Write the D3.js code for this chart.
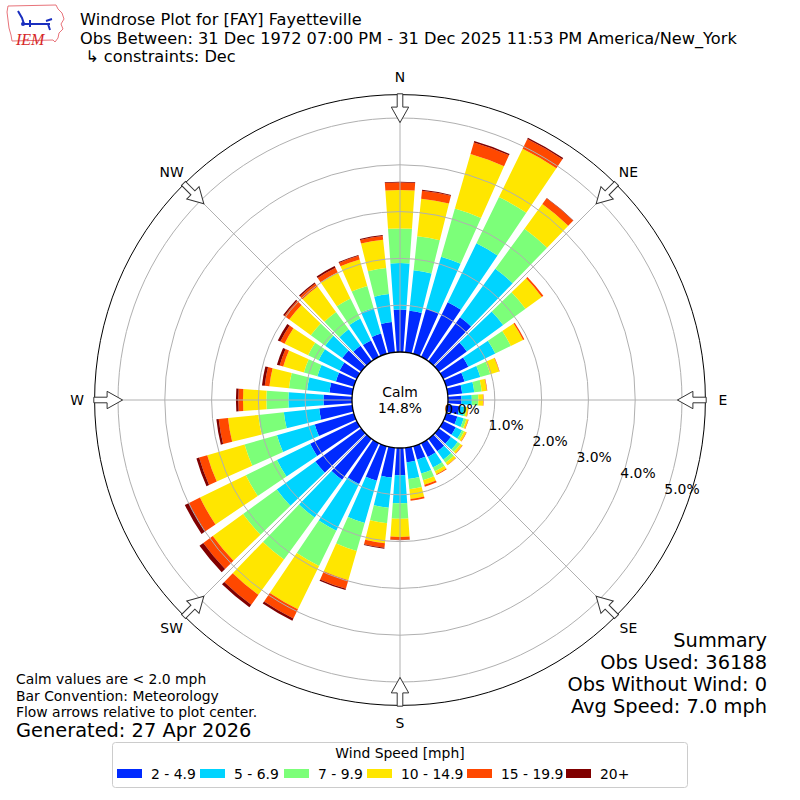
<!DOCTYPE html>
<html>
<head>
<meta charset="utf-8">
<script src="https://cdn.jsdelivr.net/npm/d3@7"></script>
<style>
  body { margin: 0; background: #fff; }
  text { font-family: "DejaVu Sans", sans-serif; fill: #000; }
</style>
</head>
<body>
<div id="rose"></div>
<script>
// directions the bars are centred on (degrees, from north, clockwise)
var directions = [0, 10, 20, 30, 40, 50, 60, 70, 80, 90, 100, 110, 120, 130, 140, 150, 160, 170,
                  180, 190, 200, 210, 220, 230, 240, 250, 260, 270, 280, 290, 300, 310, 320, 330, 340, 350];

// frequency [%] per direction for each speed class
var speed2to5   = [0.91, 0.89, 1.00, 1.30, 1.16, 0.74, 0.60, 0.41, 0.31, 0.29, 0.25, 0.25, 0.30, 0.32, 0.33, 0.33, 0.30, 0.31,
                   0.58, 0.64, 0.77, 0.97, 1.08, 1.21, 1.11, 0.87, 0.71, 0.61, 0.49, 0.40, 0.41, 0.50, 0.41, 0.39, 0.45, 0.65];
var speed5to7   = [0.99, 0.87, 1.16, 1.40, 1.28, 0.96, 0.64, 0.35, 0.26, 0.22, 0.11, 0.14, 0.15, 0.18, 0.22, 0.25, 0.31, 0.36,
                   0.60, 0.65, 0.94, 1.11, 1.00, 1.02, 0.79, 0.84, 0.76, 0.75, 0.48, 0.41, 0.50, 0.45, 0.43, 0.52, 0.57, 0.60];
var speed7to10  = [0.74, 0.73, 1.07, 1.10, 1.06, 0.59, 0.37, 0.22, 0.16, 0.14, 0.04, 0.06, 0.05, 0.07, 0.08, 0.09, 0.15, 0.22,
                   0.33, 0.33, 0.62, 0.84, 1.11, 0.89, 0.74, 0.72, 0.55, 0.47, 0.39, 0.30, 0.25, 0.38, 0.46, 0.48, 0.49, 0.56];
var speed10to15 = [0.82, 0.81, 1.21, 1.15, 0.65, 0.43, 0.29, 0.20, 0.11, 0.10, 0.04, 0.04, 0.05, 0.05, 0.06, 0.07, 0.10, 0.21,
                   0.39, 0.43, 0.65, 1.03, 0.93, 0.80, 1.09, 0.83, 0.65, 0.50, 0.42, 0.46, 0.56, 0.57, 0.67, 0.62, 0.59, 0.61];
var speed15to20 = [0.16, 0.17, 0.26, 0.23, 0.15, 0.04, 0.03, 0.01, 0.01, 0.01, 0.01, 0.01, 0.01, 0.01, 0.01, 0.02, 0.04, 0.04,
                   0.06, 0.10, 0.19, 0.22, 0.26, 0.25, 0.26, 0.18, 0.20, 0.10, 0.10, 0.08, 0.10, 0.13, 0.08, 0.11, 0.08, 0.08];
var speed20plus = [0.02, 0.02, 0.03, 0.03, 0.01, 0.00, 0.00, 0.00, 0.00, 0.00, 0.00, 0.00, 0.00, 0.00, 0.00, 0.00, 0.00, 0.00,
                   0.01, 0.02, 0.03, 0.05, 0.07, 0.10, 0.10, 0.06, 0.05, 0.05, 0.06, 0.06, 0.06, 0.03, 0.03, 0.04, 0.02, 0.02];

var speedLabels = ["2 - 4.9", "5 - 6.9", "7 - 9.9", "10 - 14.9", "15 - 19.9", "20+"];
var speedColors = ["#002aff", "#00d4ff", "#7cff79", "#ffe600", "#ff4800", "#800000"];

var ringTicks = [0, 1, 2, 3, 4, 5];
var compassLabels = ["N", "NE", "E", "SE", "S", "SW", "W", "NW"];
var compassAngles = [0, 45, 90, 135, 180, 225, 270, 315];

var calmPct = "14.8%";
var titleLines = ["Windrose Plot for [FAY] Fayetteville",
                  "Obs Between: 31 Dec 1972 07:00 PM - 31 Dec 2025 11:53 PM America/New_York",
                  " \u21b3 constraints: Dec"];
var noteLines = ["Calm values are < 2.0 mph", "Bar Convention: Meteorology", "Flow arrows relative to plot center."];
var summaryLines = ["Summary", "Obs Used: 36188", "Obs Without Wind: 0", "Avg Speed: 7.0 mph"];

var width = 800, height = 800, cx = 400, cy = 400;
var small = "13.9px";

var svg = d3.select("#rose")
  .append("svg")
    .attr("width", width)
    .attr("height", height);

svg.append("rect").attr("width", width).attr("height", height).attr("fill", "#fff");

var rScale = d3.scaleLinear().domain([0, 5.5]).range([48, 305.4]);
var rad = function (d) { return d * Math.PI / 180; };

var keys = ["s1", "s2", "s3", "s4", "s5", "s6"];
var series = [speed2to5, speed5to7, speed7to10, speed10to15, speed15to20, speed20plus];
var rows = directions.map(function (d, i) {
  var row = { dir: d };
  keys.forEach(function (k, j) { row[k] = series[j][i]; });
  return row;
});
var stacked = d3.stack().keys(keys)(rows);

var plot = svg.append("g").attr("transform", "translate(" + cx + "," + cy + ")");

var arc = d3.arc()
  .innerRadius(function (d) { return rScale(d[0]); })
  .outerRadius(function (d) { return rScale(d[1]); })
  .startAngle(function (d) { return rad(d.data.dir - 4); })
  .endAngle(function (d) { return rad(d.data.dir + 4); });

plot.selectAll("g.layer")
  .data(stacked)
  .enter()
  .append("g")
    .attr("class", "layer")
    .attr("fill", function (d, i) { return speedColors[i]; })
  .selectAll("path")
  .data(function (d) { return d; })
  .enter()
  .append("path")
    .attr("d", arc);

// grid on top of bars
plot.selectAll("circle.grid")
  .data(ringTicks.filter(function (t) { return t > 0; }))
  .enter()
  .append("circle")
    .attr("r", function (t) { return rScale(t); })
    .attr("fill", "none")
    .attr("stroke", "#b0b0b0")
    .attr("stroke-width", 1);

plot.selectAll("line.spoke")
  .data(compassAngles)
  .enter()
  .append("line")
    .attr("x1", function (a) { return rScale(0) * Math.sin(rad(a)); })
    .attr("y1", function (a) { return -rScale(0) * Math.cos(rad(a)); })
    .attr("x2", function (a) { return rScale(5.5) * Math.sin(rad(a)); })
    .attr("y2", function (a) { return -rScale(5.5) * Math.cos(rad(a)); })
    .attr("stroke", "#b0b0b0")
    .attr("stroke-width", 1);

// outer frame
plot.append("circle")
  .attr("r", rScale(5.5))
  .attr("fill", "none")
  .attr("stroke", "#000")
  .attr("stroke-width", 1);

// calm circle
plot.append("circle")
  .attr("r", rScale(0))
  .attr("fill", "#fff")
  .attr("stroke", "#000")
  .attr("stroke-width", 1.3);

plot.append("text").attr("x", 0).attr("y", -8).attr("text-anchor", "middle")
  .attr("dominant-baseline", "central").style("font-size", small).text("Calm");
plot.append("text").attr("x", 0).attr("y", 8).attr("text-anchor", "middle")
  .attr("dominant-baseline", "central").style("font-size", small).text(calmPct);

// flow arrows pointing at the centre
var tail = rScale(5.5) + 0.8, tip = rScale(5.5) - 28, neck = rScale(5.5) - 12.5;
var arrowPts = [[-2.8, -tail], [2.8, -tail], [2.8, -neck], [8.7, -neck], [0, -tip], [-8.7, -neck], [-2.8, -neck]];
plot.selectAll("path.arrow")
  .data(compassAngles)
  .enter()
  .append("path")
    .attr("d", "M" + arrowPts.join("L") + "Z")
    .attr("transform", function (a) { return "rotate(" + a + ")"; })
    .attr("fill", "#fff")
    .attr("stroke", "#333")
    .attr("stroke-width", 1);

// compass labels
plot.selectAll("text.compass")
  .data(compassAngles)
  .enter()
  .append("text")
    .attr("x", function (a) { return 323 * Math.sin(rad(a)); })
    .attr("y", function (a) { return -323 * Math.cos(rad(a)); })
    .attr("text-anchor", "middle")
    .attr("dominant-baseline", "central")
    .style("font-size", small)
    .text(function (a, i) { return compassLabels[i]; });

// radial tick labels
plot.selectAll("text.rtick")
  .data(ringTicks)
  .enter()
  .append("text")
    .attr("x", function (t) { return rScale(t) * Math.cos(rad(20)) + 17; })
    .attr("y", function (t) { return rScale(t) * Math.sin(rad(20)) - 7; })
    .attr("text-anchor", "middle")
    .attr("dominant-baseline", "central")
    .style("font-size", small)
    .text(function (t) { return d3.format(".1f")(t) + "%"; });

// title
svg.selectAll("text.title")
  .data(titleLines)
  .enter()
  .append("text")
    .attr("x", 80)
    .attr("y", function (d, i) { return 25 + i * 18.5; })
    .style("font-size", "16.2px")
    .style("white-space", "pre")
    .attr("xml:space", "preserve")
    .text(function (d) { return d; });

// IEM logo
var logo = svg.append("g");
logo.append("path")
  .attr("d", "M8,6 L56,5 L58,9 L62,13 L64,19 L61,24 L63,29 L59,33 L58,38 L55,42 L53,40 L12,41 L11,35 L9,28 L8,20 L7,12 Z")
  .attr("fill", "none")
  .attr("stroke", "#e8737a")
  .attr("stroke-width", 1);
logo.append("path")
  .attr("d", "M22,24 L50,24 M30,20 L30,27 M46,21 L52,19 M48,24 L50,30 M18,11 L22,18 L24,24")
  .attr("fill", "none")
  .attr("stroke", "#1a2fbf")
  .attr("stroke-width", 2);
logo.append("circle").attr("cx", 23).attr("cy", 24).attr("r", 2).attr("fill", "#1a2fbf");
logo.append("text")
  .attr("x", 16).attr("y", 45)
  .style("font-family", "Liberation Serif, serif")
  .style("font-style", "italic")
  .style("font-size", "16px")
  .style("fill", "#d62728")
  .text("IEM");

// notes bottom left
svg.selectAll("text.note")
  .data(noteLines)
  .enter()
  .append("text")
    .attr("x", 16)
    .attr("y", function (d, i) { return 684 + i * 16.5; })
    .style("font-size", small)
    .text(function (d) { return d; });

svg.append("text")
  .attr("x", 16).attr("y", 737)
  .style("font-size", "19.4px")
  .text("Generated: 27 Apr 2026");

// summary bottom right
svg.selectAll("text.summary")
  .data(summaryLines)
  .enter()
  .append("text")
    .attr("x", 767)
    .attr("y", function (d, i) { return 647 + i * 22; })
    .attr("text-anchor", "end")
    .style("font-size", "19.4px")
    .text(function (d) { return d; });

// legend
var legend = svg.append("g");
legend.append("rect")
  .attr("x", 112.5).attr("y", 742.5)
  .attr("width", 575).attr("height", 45)
  .attr("rx", 3)
  .attr("fill", "#fff")
  .attr("stroke", "#cccccc")
  .attr("stroke-width", 1);
legend.append("text")
  .attr("x", 400).attr("y", 758)
  .attr("text-anchor", "middle")
  .style("font-size", small)
  .text("Wind Speed [mph]");

var legendX = [117, 200, 284, 367, 467, 566];
var item = legend.selectAll("g.item")
  .data(speedLabels)
  .enter()
  .append("g")
    .attr("transform", function (d, i) { return "translate(" + legendX[i] + ",769)"; });
item.append("rect")
  .attr("width", 25).attr("height", 9)
  .attr("fill", function (d, i) { return speedColors[i]; });
item.append("text")
  .attr("x", 34).attr("y", 9.5)
  .style("font-size", small)
  .text(function (d) { return d; });
</script>
</body>
</html>
